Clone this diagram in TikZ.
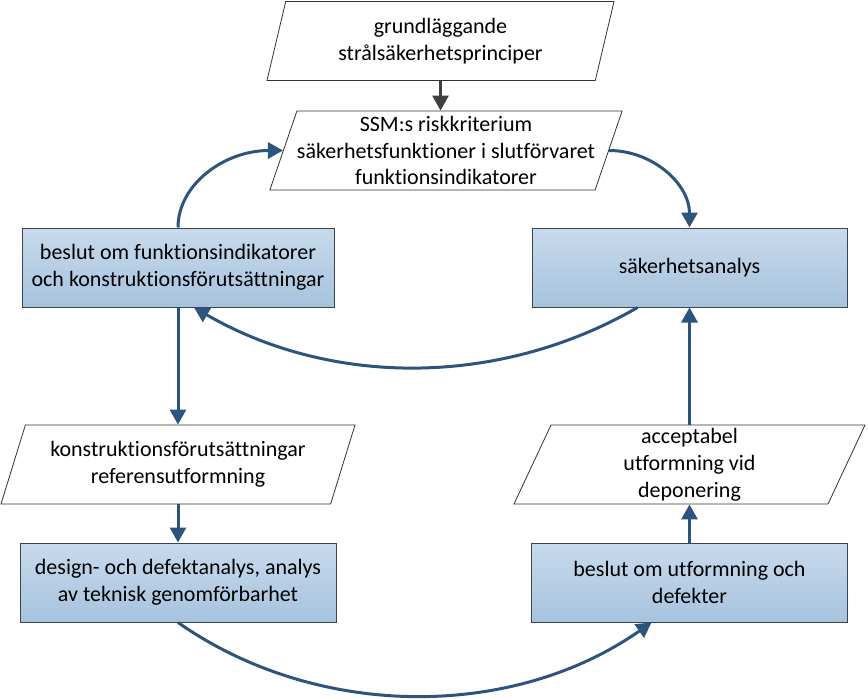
\documentclass[tikz,border=0pt]{standalone}
\usepackage{fontspec}
\setmainfont{Carlito}[Ligatures=NoCommon]
\usetikzlibrary{arrows.meta,shapes.geometric}
\definecolor{boxtop}{RGB}{200,218,236}
\definecolor{boxbot}{RGB}{166,195,222}
\definecolor{boxline}{RGB}{60,68,80}
\definecolor{arrowblue}{RGB}{44,84,126}
\definecolor{arrowgray}{RGB}{64,64,64}
\begin{document}
\begin{tikzpicture}[x=1pt,y=-1pt,
        font=\fontsize{22}{26.8}\selectfont,
        box/.style={draw=boxline,line width=1pt,top color=boxtop,bottom color=boxbot,
            minimum height=79pt,align=center,inner sep=0pt},
        para/.style={trapezium,draw=black!80,line width=0.8pt,fill=white,
            trapezium stretches body,minimum height=79pt,align=center,inner sep=0pt},
        arr/.style={draw=arrowblue,line width=3pt,-{Triangle[length=15pt,width=16pt]}},
        grayarr/.style={draw=arrowgray,line width=2.6pt,-{Triangle[length=15pt,width=16pt]}}]
        \useasboundingbox (0,0) rectangle (868,699);

        \node[para,trapezium left angle=67.7,trapezium right angle=112.3,minimum width=347pt] (grund) at (440.5,41) {grundläggande\\strålsäkerhetsprinciper};
        \node[para,trapezium left angle=68.6,trapezium right angle=111.4,minimum width=348pt] (ssm) at (446,150.5) {SSM:s riskkriterium\\säkerhetsfunktioner i slutförvaret\\funktionsindikatorer};

        \node[box,minimum width=312pt] (beslut) at (178,267.5) {beslut om funktionsindikatorer\\och konstruktionsförutsättningar};
        \node[box,minimum width=315pt] (analys) at (689.5,267.5) {säkerhetsanalys};

        \node[para,trapezium left angle=62,trapezium right angle=118,minimum width=354pt] (konstr) at (178,464.5) {konstruktionsförutsättningar\\referensutformning};
        \node[para,trapezium left angle=63,trapezium right angle=117,minimum width=351pt] (accept) at (689.5,464.5) {acceptabel\\utformning vid\\deponering};

        \node[box,minimum width=316pt] (design) at (178,582.5) {design- och defektanalys, analys\\av teknisk genomförbarhet};
        \node[box,minimum width=316pt] (utform) at (689.5,582.5) {beslut om utformning och\\defekter};

        \draw[grayarr] (grund.south) -- (grund.south |- ssm.north);

        \draw[arr] (beslut.north) to[out=90,in=180,out looseness=0.85,in looseness=1.15] (ssm.left side);
        \draw[arr] (ssm.right side) to[out=0,in=90,looseness=1] (analys.north);
        \draw[arr] ([xshift=-52pt]analys.south) to[out=-150,in=-30,looseness=0.92] ([xshift=16pt]beslut.south);

        \draw[arr] (beslut) -- (konstr);
        \draw[arr] (konstr) -- (design);
        \draw[arr] (design.south) to[out=-35,in=-145,looseness=0.92] ([xshift=-38pt]utform.south);
        \draw[arr] (utform) -- (accept);
        \draw[arr] (accept) -- (analys);
    \end{tikzpicture}
\end{document}
